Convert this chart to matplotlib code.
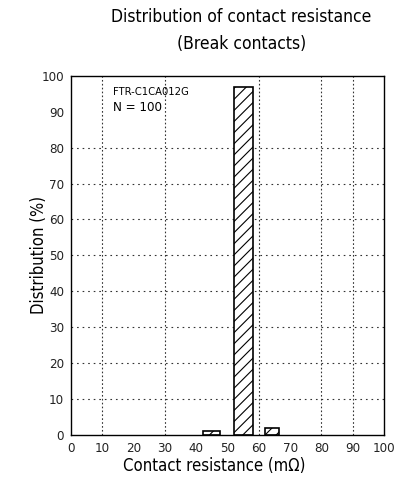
import matplotlib
matplotlib.use('Agg')
import matplotlib.pyplot as plt
import numpy as np

plt.rcParams['font.family'] = ['DejaVu Sans']
plt.rcParams['font.stretch'] = 'condensed'
plt.rcParams['hatch.linewidth'] = 0.8

#*********************************************************************************
# data: bar bins (mOhm) and distribution (%)
bin_left  = [42.0, 52.0, 62.0]
bin_right = [47.5, 58.0, 66.5]
dist      = [1, 97, 2]
xticks = np.arange(0, 101, 10)
yticks = np.arange(0, 101, 10)
vgrid = [10, 30, 60, 80, 90]
hgrid = [10, 20, 30, 40, 50, 60, 70, 80]
model = 'FTR-C1CA012G'
count = 'N = 100'

#*********************************************************************************
fig = plt.figure(figsize=(4.13, 4.86), dpi=100)
ax = fig.add_axes([0.172, 0.105, 0.758, 0.739])

for x in vgrid:
   ax.axvline(x, color='#333333', linestyle=(0, (1.5, 2.0)), linewidth=0.8, zorder=1)
for y in hgrid:
   ax.axhline(y, color='#333333', linestyle=(0, (1.5, 3.5)), linewidth=0.8, zorder=1)

widths = np.array(bin_right) - np.array(bin_left)
ax.bar(bin_left, dist, width=widths, align='edge', color='white',
       edgecolor='k', hatch='///', linewidth=1.2, zorder=2)

ax.text(13.4, 95.5, model, fontsize=8, va='center', ha='left')
ax.text(13.4, 91.3, count, fontsize=9.5, va='center', ha='left')

ax.set_xlim([0, 100])
ax.set_ylim([0, 100])
ax.set_xticks(xticks)
ax.set_yticks(yticks)
ax.tick_params(length=0, labelsize=9.5, pad=5, labelcolor='#222222')
for s in ax.spines.values():
   s.set_linewidth(1.0)

ax.set_xlabel('Contact resistance (m\u03a9)', fontsize=12)
ax.set_ylabel('Distribution (%)', fontsize=12)
ax.xaxis.set_label_coords(0.457, -0.062)
ax.yaxis.set_label_coords(-0.073, 0.5)
fig.text(0.584, 1-17/486., 'Distribution of contact resistance', fontsize=12.5, ha='center', va='center')
fig.text(0.584, 1-44/486., '(Break contacts)', fontsize=12.5, ha='center', va='center')

plt.savefig('out.png', dpi=100)
plt.close()
